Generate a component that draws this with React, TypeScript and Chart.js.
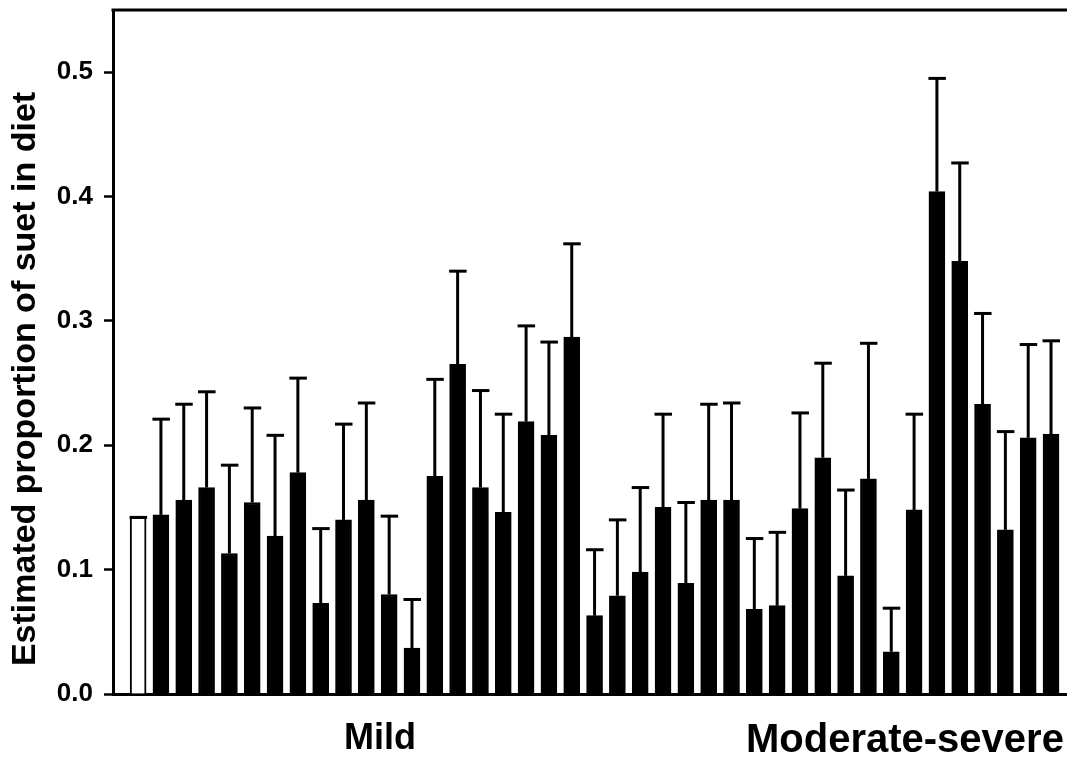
import React, { useEffect, useRef } from "react";
import { Chart, registerables } from "chart.js";

Chart.register(...registerables);

// x position of each bar (bar index along the axis)
const barPositions = [
  1, 2, 3, 4, 5, 6, 7, 8, 9, 10, 11, 12, 13, 14, 15, 16, 17, 18, 19, 20, 21,
  22, 23, 24, 25, 26, 27, 28, 29, 30, 31, 32, 33, 34, 35, 36, 37, 38, 39, 40, 41,
];

// Estimated proportion of suet in diet (bar heights)
const means = [
  0.142, 0.144, 0.156, 0.166, 0.113, 0.154, 0.127, 0.178, 0.073, 0.14, 0.156,
  0.08, 0.037, 0.175, 0.265, 0.166, 0.146, 0.219, 0.208, 0.287, 0.063, 0.079,
  0.098, 0.15, 0.089, 0.156, 0.156, 0.068, 0.071, 0.149, 0.19, 0.095, 0.173,
  0.034, 0.148, 0.404, 0.348, 0.233, 0.132, 0.206, 0.209,
];

// Upper end of each error bar
const upperLimits = [
  0.142, 0.221, 0.233, 0.243, 0.184, 0.23, 0.208, 0.254, 0.133, 0.217, 0.234,
  0.143, 0.076, 0.253, 0.34, 0.244, 0.225, 0.296, 0.283, 0.362, 0.116, 0.14,
  0.166, 0.225, 0.154, 0.233, 0.234, 0.125, 0.13, 0.226, 0.266, 0.164, 0.282,
  0.069, 0.225, 0.495, 0.427, 0.306, 0.211, 0.281, 0.284,
];

// Group labels under the x axis and where they sit (in bar-index units)
const groupLabels = ["Mild", "Moderate-severe"];
const groupLabelPositions = [11.6, 34.6];

const yTitle = "Estimated proportion of suet in diet";

const FONT = "'Liberation Sans', Arial, Helvetica, sans-serif";

export default function App() {
  const canvasRef = useRef<HTMLCanvasElement | null>(null);

  useEffect(() => {
    document.body.style.margin = "0";
    const canvas = canvasRef.current;
    if (!canvas) return;

    const errorBars = {
      id: "errorBars",
      afterDatasetsDraw(chart: any) {
        const meta = chart.getDatasetMeta(0);
        const yScale = chart.scales.y;
        const ctx = chart.ctx;
        ctx.save();
        ctx.strokeStyle = "#000";
        ctx.lineWidth = 3;
        meta.data.forEach((bar: any, i: number) => {
          const x = bar.x;
          const y0 = yScale.getPixelForValue(means[i]);
          const y1 = yScale.getPixelForValue(upperLimits[i]);
          ctx.beginPath();
          ctx.moveTo(x, y0);
          ctx.lineTo(x, y1);
          ctx.stroke();
          ctx.beginPath();
          ctx.moveTo(x - 8.5, y1);
          ctx.lineTo(x + 9, y1);
          ctx.stroke();
        });
        ctx.restore();
      },
    };

    const frame = {
      id: "frame",
      afterDraw(chart: any) {
        const { ctx, chartArea } = chart;
        ctx.save();
        ctx.strokeStyle = "#000";
        ctx.lineWidth = 3;
        ctx.beginPath();
        ctx.moveTo(chartArea.left - 1.5, chartArea.top);
        ctx.lineTo(chartArea.right, chartArea.top);
        ctx.stroke();
        // y axis title
        ctx.translate(26, 379);
        ctx.rotate(-Math.PI / 2);
        ctx.fillStyle = "#000";
        ctx.font = `bold 34px ${FONT}`;
        ctx.textAlign = "center";
        ctx.textBaseline = "middle";
        ctx.fillText(yTitle, 0, 0);
        ctx.restore();
      },
    };

    const chart = new Chart(canvas, {
      type: "bar",
      data: {
        datasets: [
          {
            data: barPositions.map((x, i) => ({ x, y: means[i] })),
            backgroundColor: means.map((_, i) => (i === 0 ? "#ffffff" : "#000000")),
            borderColor: "#000000",
            borderWidth: 2,
            barThickness: 16,
          },
        ],
      },
      options: {
        responsive: false,
        animation: false,
        devicePixelRatio: 1,
        layout: { padding: { top: 10, left: 0, right: 0, bottom: 0 } },
        plugins: {
          legend: { display: false },
          tooltip: { enabled: false },
        },
        scales: {
          x: {
            type: "linear",
            min: -0.1,
            max: 41.7,
            offset: false,
            grid: { display: false },
            border: { display: true, color: "#000", width: 3 },
            afterBuildTicks: (scale: any) => {
              scale.ticks = groupLabelPositions.map((v) => ({ value: v }));
            },
            afterFit: (scale: any) => {
              scale.height = 68;
              scale.paddingLeft = 0;
              scale.paddingRight = 0;
            },
            ticks: {
              autoSkip: false,
              maxRotation: 0,
              minRotation: 0,
              padding: 15,
              color: "#000",
              font: (c: any) => ({
                family: FONT,
                size: c.index === 0 ? 36 : 40,
                weight: "bold",
              }),
              callback: (_v: any, i: number) => groupLabels[i],
            },
          },
          y: {
            min: 0,
            max: 0.55,
            grid: {
              drawOnChartArea: false,
              drawTicks: true,
              tickLength: 9,
              tickColor: "#000",
              tickWidth: 2.5,
            },
            border: { display: true, color: "#000", width: 3 },
            afterFit: (scale: any) => {
              scale.width = 113;
              scale.paddingTop = 0;
              scale.paddingBottom = 0;
            },
            ticks: {
              stepSize: 0.1,
              includeBounds: false,
              padding: 11,
              color: "#000",
              font: { family: FONT, size: 26, weight: "bold" },
              callback: (v: any) => Number(v).toFixed(1),
            },
          },
        },
      } as any,
      plugins: [errorBars, frame],
    });

    return () => chart.destroy();
  }, []);

  return (
    <div style={{ width: 1067, height: 762, background: "#fff" }}>
      <canvas ref={canvasRef} width={1067} height={762} />
    </div>
  );
}
